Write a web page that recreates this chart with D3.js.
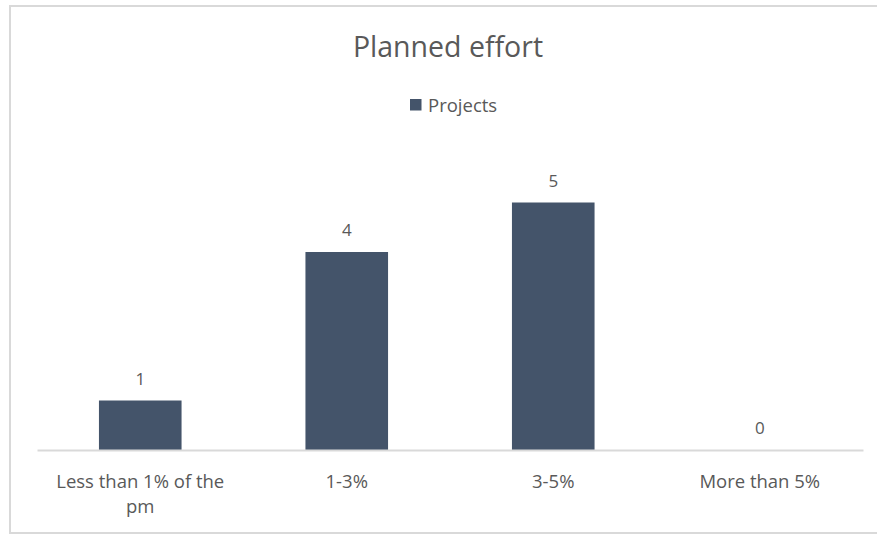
<!DOCTYPE html>
<html>
<head>
<meta charset="utf-8">
<script src="https://cdn.jsdelivr.net/npm/d3@7/dist/d3.min.js"></script>
<style>
  html, body { margin: 0; padding: 0; background: #fff; }
  svg { display: block; }
  text { font-family: "Open Sans", "Noto Sans", sans-serif; fill: #595959; }
</style>
</head>
<body>
<svg id="chart" width="877" height="534"></svg>
<script>
// Planned effort per project, by share of the pm
const categories = [["Less than 1% of the", "pm"], ["1-3%"], ["3-5%"], ["More than 5%"]];
const projects = [1, 4, 5, 0];
const seriesName = "Projects";
const chartTitle = "Planned effort";

const svg = d3.select("#chart");
const W = 877, H = 534;
const barColor = "#44546a";

// outer chart frame (runs past the right edge)
svg.append("rect")
  .attr("x", 10).attr("y", 6)
  .attr("width", W + 10).attr("height", 527)
  .attr("fill", "#fff")
  .attr("stroke", "#d9d9d9").attr("stroke-width", 2);

const plot = { left: 37, right: 863, top: 153, bottom: 450 };

const x = d3.scaleBand()
  .domain(categories.map((c, i) => i))
  .range([plot.left, plot.right])
  .paddingInner(0.6)
  .paddingOuter(0.3);

const y = d3.scaleLinear()
  .domain([0, 6])
  .range([plot.bottom, plot.top]);

// bars
svg.append("g").selectAll("rect")
  .data(projects)
  .join("rect")
  .attr("x", (d, i) => x(i))
  .attr("y", d => y(d))
  .attr("width", x.bandwidth())
  .attr("height", d => y(0) - y(d))
  .attr("fill", barColor);

// category axis
const xAxis = d3.axisBottom(x).tickSize(0).tickFormat(() => "");
const gx = svg.append("g")
  .attr("transform", `translate(0,${plot.bottom})`)
  .call(xAxis);
gx.select(".domain").attr("stroke", "#d9d9d9").attr("stroke-width", 2);

gx.selectAll(".tick").each(function(i) {
  const t = d3.select(this).select("text")
    .attr("y", 0).attr("dy", null)
    .attr("font-size", 18.5)
    .attr("text-anchor", "middle");
  categories[i].forEach((line, k) => {
    t.append("tspan")
      .attr("x", 0)
      .attr("y", 37.5 + k * 25)
      .text(line);
  });
});
gx.selectAll("text").style("fill", "#595959").style("font-family", "'Open Sans', 'Noto Sans', sans-serif");

// value labels
svg.append("g").selectAll("text")
  .data(projects)
  .join("text")
  .attr("x", (d, i) => x(i) + x.bandwidth() / 2)
  .attr("y", d => y(d) - 16)
  .attr("text-anchor", "middle")
  .attr("font-size", 17)
  .text(d => d);

// title
svg.append("text")
  .attr("x", 448).attr("y", 57)
  .attr("text-anchor", "middle")
  .attr("font-size", 28.5)
  .text(chartTitle);

// legend
const legend = svg.append("g").attr("transform", "translate(410,99)");
legend.append("rect")
  .attr("width", 11.5).attr("height", 11.5)
  .attr("fill", barColor);
legend.append("text")
  .attr("x", 18).attr("y", 12.5)
  .attr("font-size", 18.5)
  .text(seriesName);
</script>
</body>
</html>
